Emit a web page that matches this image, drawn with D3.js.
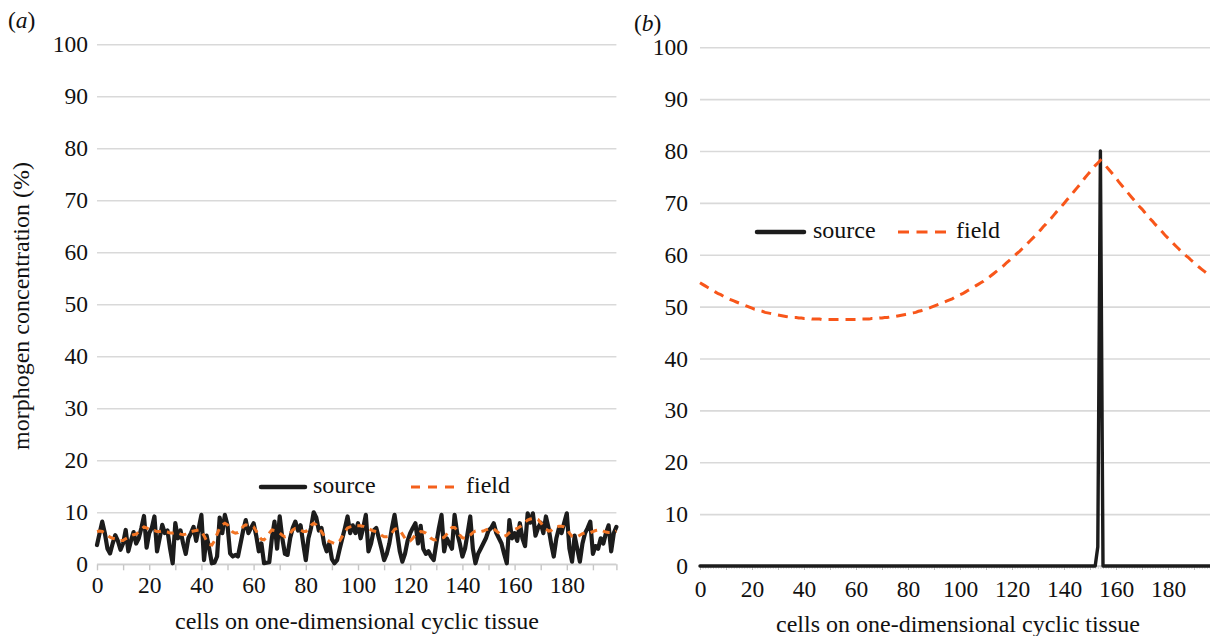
<!DOCTYPE html>
<html>
<head>
<meta charset="utf-8">
<script src="https://cdn.jsdelivr.net/npm/d3@7"></script>
<style>
  html, body { margin: 0; padding: 0; background: #fff; }
  svg { display: block; }
  text { font-family: "Liberation Serif", "Times New Roman", serif; fill: #111; }
</style>
</head>
<body>
<svg id="chart" width="1210" height="636"></svg>
<script>
// ---------- data ----------
const xTickLabels = [0, 20, 40, 60, 80, 100, 120, 140, 160, 180];
const yTickValues = [0, 10, 20, 30, 40, 50, 60, 70, 80, 90, 100];
const seriesNames = ["source", "field"];
const panelLabels = ["a", "b"];
const xTitle = "cells on one-dimensional cyclic tissue";
const yTitle = "morphogen concentration (%)";

const sourceA = [
  3.7, 6, 8.2, 6, 3, 2.1, 4, 5.6, 4.5, 2.8,
  4, 6.6, 2.5, 4.5, 6.2, 4, 5, 7, 9.3, 3.2,
  6, 7, 9.2, 2.5, 5, 7.6, 6, 6.5, 3, 0.2,
  7.9, 5, 6.5, 4, 2, 5, 6, 7.2, 4.5, 7,
  9.5, 0.8, 5.5, 3, 0.2, 0.3, 1.5, 9, 6, 9.5,
  7.5, 2.1, 1.5, 1.8, 1.5, 4, 6.5, 8.5, 6, 7,
  7.9, 5.5, 2.5, 4, 0.2, 0.3, 0.4, 5, 8.2, 3,
  9.2, 5, 2, 1.8, 5, 7, 8.2, 6.5, 7.5, 4,
  0.8, 5, 7, 10, 9, 6.5, 7, 4, 2.5, 4,
  1, 0.2, 0.8, 3, 5, 7, 9.2, 6, 7.5, 6,
  7.9, 5, 7, 9.5, 2.5, 4, 6.5, 7, 5, 3,
  0.8, 2, 4, 7, 9.5, 6, 2.5, 0.5, 2, 4.5,
  6, 7, 7.9, 4, 7.4, 3, 2, 2.5, 1.5, 0.8,
  4, 7, 9.5, 2.5, 5, 4, 3, 9.5, 6, 4,
  1.5, 3, 6, 9.2, 3, 0.2, 2, 3, 4, 5,
  6.5, 7, 7.9, 6, 5, 4, 2, 0.2, 8.5, 5,
  6, 4.5, 7.9, 5, 3.5, 9.8, 8, 9.8, 5.5, 7,
  8, 6, 9.2, 7, 4, 1.5, 5, 7, 6, 8,
  9.8, 3, 0.5, 5.5, 3, 0.5, 4, 6, 7, 8.2,
  2, 3.5, 3, 5, 4, 6, 7.5, 2.5, 6, 7.2
];

const fieldA = [
  6.3, 6.4, 6.3, 6.0, 5.6, 5.2, 5.0, 4.9, 4.8, 4.6,
  4.6, 4.9, 5.2, 5.5, 5.7, 5.8, 6.2, 6.8, 7.2, 7.0,
  6.7, 6.5, 6.5, 6.3, 6.3, 6.4, 6.3, 6.2, 6.0, 6.0,
  6.1, 6.0, 5.8, 5.7, 5.8, 6.0, 6.3, 6.4, 6.5, 6.6,
  6.4, 5.5, 4.5, 3.8, 3.7, 4.5, 5.8, 7.0, 7.6, 7.9,
  7.6, 6.8, 6.2, 6.0, 6.1, 6.6, 7.3, 7.6, 7.5, 7.4,
  7.2, 6.4, 5.4, 4.8, 4.7, 5.2, 6.0, 6.6, 6.5, 6.2,
  6.0, 5.6, 5.3, 5.5, 6.0, 6.6, 6.9, 6.8, 6.6, 6.3,
  6.3, 6.8, 7.5, 7.9, 7.6, 6.9, 6.3, 5.5, 4.8, 4.4,
  4.2, 4.0, 4.0, 4.5, 5.4, 6.3, 7.0, 7.2, 7.3, 7.4,
  7.4, 7.4, 7.3, 7.1, 6.9, 6.6, 6.4, 6.3, 6.0, 5.6,
  5.3, 5.3, 5.4, 6.0, 6.7, 6.9, 6.6, 5.8, 5.0, 4.6,
  4.5, 5.0, 5.7, 6.0, 6.3, 6.2, 6.0, 5.6, 5.0, 4.7,
  4.7, 4.9, 5.0, 5.2, 5.8, 6.6, 7.1, 7.1, 6.5, 5.6,
  5.1, 5.0, 5.2, 5.6, 6.1, 6.4, 6.4, 6.3, 6.4, 6.6,
  6.8, 6.9, 6.8, 6.4, 6.0, 5.6, 5.4, 5.6, 6.1, 6.5,
  6.7, 6.9, 7.2, 7.6, 8.1, 8.5, 8.7, 8.8, 8.8, 8.6,
  8.0, 7.3, 6.8, 6.4, 6.5, 6.9, 7.2, 7.3, 7.3, 7.2,
  6.8, 6.0, 5.4, 5.2, 5.3, 5.6, 5.9, 6.0, 6.0, 6.1,
  6.3, 6.5, 6.6, 6.6, 6.4, 6.2, 6.1, 6.1, 6.2, 6.4
];

const sourceB = [
  0, 0, 0, 0, 0, 0, 0, 0, 0, 0,
  0, 0, 0, 0, 0, 0, 0, 0, 0, 0,
  0, 0, 0, 0, 0, 0, 0, 0, 0, 0,
  0, 0, 0, 0, 0, 0, 0, 0, 0, 0,
  0, 0, 0, 0, 0, 0, 0, 0, 0, 0,
  0, 0, 0, 0, 0, 0, 0, 0, 0, 0,
  0, 0, 0, 0, 0, 0, 0, 0, 0, 0,
  0, 0, 0, 0, 0, 0, 0, 0, 0, 0,
  0, 0, 0, 0, 0, 0, 0, 0, 0, 0,
  0, 0, 0, 0, 0, 0, 0, 0, 0, 0,
  0, 0, 0, 0, 0, 0, 0, 0, 0, 0,
  0, 0, 0, 0, 0, 0, 0, 0, 0, 0,
  0, 0, 0, 0, 0, 0, 0, 0, 0, 0,
  0, 0, 0, 0, 0, 0, 0, 0, 0, 0,
  0, 0, 0, 0, 0, 0, 0, 0, 0, 0,
  0, 0, 0, 3.7, 80, 0, 0, 0, 0, 0,
  0, 0, 0, 0, 0, 0, 0, 0, 0, 0,
  0, 0, 0, 0, 0, 0, 0, 0, 0, 0,
  0, 0, 0, 0, 0, 0, 0, 0, 0, 0,
  0, 0, 0, 0, 0, 0, 0, 0, 0, 0
];

const fieldB = [
  54.6, 54.3, 54.0, 53.7, 53.4, 53.1, 52.8, 52.5, 52.3, 52.0,
  51.8, 51.5, 51.3, 51.1, 50.9, 50.7, 50.5, 50.3, 50.1, 49.9,
  49.7, 49.5, 49.4, 49.2, 49.1, 48.9, 48.8, 48.7, 48.6, 48.5,
  48.4, 48.3, 48.2, 48.1, 48.0, 48.0, 47.9, 47.9, 47.8, 47.8,
  47.7, 47.7, 47.7, 47.6, 47.6, 47.6, 47.6, 47.5, 47.5, 47.5,
  47.5, 47.5, 47.5, 47.5, 47.5, 47.5, 47.5, 47.5, 47.5, 47.5,
  47.5, 47.5, 47.6, 47.6, 47.6, 47.6, 47.7, 47.7, 47.7, 47.8,
  47.8, 47.9, 47.9, 48.0, 48.0, 48.1, 48.2, 48.3, 48.4, 48.5,
  48.6, 48.7, 48.8, 48.9, 49.1, 49.2, 49.4, 49.5, 49.7, 49.9,
  50.1, 50.3, 50.5, 50.7, 50.9, 51.1, 51.3, 51.5, 51.8, 52.0,
  52.3, 52.5, 52.8, 53.1, 53.4, 53.7, 54.0, 54.3, 54.6, 54.9,
  55.3, 55.6, 56.0, 56.4, 56.8, 57.2, 57.6, 58.0, 58.5, 58.9,
  59.4, 59.8, 60.3, 60.7, 61.2, 61.7, 62.2, 62.7, 63.2, 63.7,
  64.3, 64.8, 65.4, 65.9, 66.5, 67.0, 67.6, 68.2, 68.8, 69.3,
  69.9, 70.5, 71.1, 71.7, 72.3, 72.9, 73.5, 74.1, 74.8, 75.4,
  76.0, 76.6, 77.2, 77.7, 78.2, 77.7, 77.2, 76.6, 76.0, 75.4,
  74.8, 74.1, 73.5, 72.9, 72.3, 71.7, 71.1, 70.5, 69.9, 69.3,
  68.8, 68.2, 67.6, 67.0, 66.5, 65.9, 65.4, 64.8, 64.3, 63.7,
  63.2, 62.7, 62.2, 61.7, 61.2, 60.7, 60.3, 59.8, 59.4, 58.9,
  58.5, 58.0, 57.6, 57.2, 56.8, 56.4, 56.0, 55.6, 55.3, 54.9
];

// ---------- drawing ----------
const svg = d3.select("#chart");
svg.append("rect").attr("width", 1210).attr("height", 636).attr("fill", "#fff");

const FONT = 23.5;
const TITLE_FONT = 24;
const SERIF = '"Liberation Serif", "Times New Roman", serif';
const SOURCE_COLOR = "#1c1c1c";
const GRID_COLOR = "#d9d9d9";

const panels = [
  {
    label: panelLabels[0], source: sourceA, field: fieldA,
    x0: 97, x1: 616.4, y0: 564.3, y1: 44.3, yPad: 9, xPad: 12.2,
    gridRight: 616.4, minorTicks: false,
    labelPos: [8, 28], xTitlePos: [357, 629], yTitle: true,
    legend: { y: 487, lineX: [261, 305], srcTextX: 313, dashX: [411, 460], fieldTextX: 466, base: 493 },
    srcWidth: 4.2, fieldWidth: 3, fieldColor: "#f27424", fieldDash: "7,6", legendDash: "9,8",
    legendColor: "#f4601c"
  },
  {
    label: panelLabels[1], source: sourceB, field: fieldB,
    x0: 700, x1: 700 + 199 * 2.6, y0: 566, y1: 47.3, yPad: 12, xPad: 14.5,
    gridRight: 1230, minorTicks: true,
    labelPos: [634, 31], xTitlePos: [958, 632], yTitle: false,
    legend: { y: 232, lineX: [757, 804], srcTextX: 813, dashX: [898, 947], fieldTextX: 956, base: 238 },
    srcWidth: 3.4, fieldWidth: 3, fieldColor: "#f8561a", fieldDash: "10,7", legendDash: "11,7.5",
    legendColor: "#f8561a"
  }
];

panels.forEach(p => {
  const n = p.source.length;
  const cells = d3.range(n);
  const x = d3.scaleLinear().domain([0, n - 1]).range([p.x0, p.x1]);
  const y = d3.scaleLinear().domain([0, 100]).range([p.y0, p.y1]);
  const g = svg.append("g");

  // gridlines + y labels
  const yAxis = d3.axisLeft(y).tickValues(yTickValues)
    .tickSize(-(p.gridRight - p.x0)).tickPadding(p.yPad).tickFormat(d3.format("d"));
  const ya = g.append("g").attr("transform", `translate(${p.x0},0)`).call(yAxis)
    .attr("font-family", SERIF);
  ya.select(".domain").remove();
  ya.selectAll(".tick line").attr("stroke", GRID_COLOR).attr("stroke-width", 1.6);
  ya.selectAll(".tick text").attr("font-size", FONT).attr("fill", "#111").style("font-family", SERIF);

  // x axis
  const xa = g.append("g").attr("transform", `translate(0,${y(0)})`);
  const majorTicks = d3.range(0, n, 10);
  if (p.minorTicks) {
    xa.append("g").call(d3.axisBottom(x).tickValues(cells).tickSize(3).tickFormat(""))
      .call(s => { s.select(".domain").remove(); s.selectAll("line").attr("stroke", "#c8c8c8").attr("stroke-width", 0.8); });
    xa.append("g").call(d3.axisBottom(x).tickValues(majorTicks).tickSize(4).tickFormat(""))
      .call(s => { s.select(".domain").remove(); s.selectAll("line").attr("stroke", "#bdbdbd").attr("stroke-width", 1); });
  } else {
    xa.append("g").call(d3.axisBottom(x).tickValues(majorTicks.concat([n - 1])).tickSize(6).tickFormat(""))
      .call(s => { s.select(".domain").remove(); s.selectAll("line").attr("stroke", "#c6c6c6").attr("stroke-width", 1.4); });
  }
  xa.append("line").attr("x1", p.x0).attr("x2", p.gridRight).attr("y1", 0).attr("y2", 0)
    .attr("stroke", "#cfcfcf").attr("stroke-width", 1.6);
  const xl = xa.append("g").call(d3.axisBottom(x).tickValues(xTickLabels).tickSize(0).tickPadding(p.xPad))
    .attr("font-family", SERIF);
  xl.select(".domain").remove();
  xl.selectAll(".tick text").attr("font-size", FONT).attr("fill", "#111").style("font-family", SERIF);

  // series lines
  const line = d3.line().x((d, i) => x(i)).y(d => y(d));
  g.append("path").datum(p.source).attr("d", line)
    .attr("fill", "none").attr("stroke", SOURCE_COLOR).attr("stroke-width", p.srcWidth)
    .attr("stroke-linejoin", "round").attr("stroke-linecap", "round");
  g.append("path").datum(p.field).attr("d", line)
    .attr("fill", "none").attr("stroke", p.fieldColor).attr("stroke-width", p.fieldWidth)
    .attr("stroke-dasharray", p.fieldDash);

  // legend
  const L = p.legend;
  g.append("line").attr("x1", L.lineX[0]).attr("x2", L.lineX[1]).attr("y1", L.y).attr("y2", L.y)
    .attr("stroke", SOURCE_COLOR).attr("stroke-width", 4.5).attr("stroke-linecap", "round");
  g.append("text").attr("x", L.srcTextX).attr("y", L.base).attr("font-size", TITLE_FONT).text(seriesNames[0]);
  g.append("line").attr("x1", L.dashX[0]).attr("x2", L.dashX[1]).attr("y1", L.y).attr("y2", L.y)
    .attr("stroke", p.legendColor).attr("stroke-width", 3).attr("stroke-dasharray", p.legendDash);
  g.append("text").attr("x", L.fieldTextX).attr("y", L.base).attr("font-size", TITLE_FONT).text(seriesNames[1]);

  // panel label
  const pl = g.append("text").attr("x", p.labelPos[0]).attr("y", p.labelPos[1]).attr("font-size", FONT);
  pl.append("tspan").text("(");
  pl.append("tspan").attr("font-style", "italic").text(p.label);
  pl.append("tspan").text(")");

  // axis titles
  g.append("text").attr("x", p.xTitlePos[0]).attr("y", p.xTitlePos[1])
    .attr("text-anchor", "middle").attr("font-size", TITLE_FONT).text(xTitle);
  if (p.yTitle) {
    g.append("text").attr("transform", "translate(29,306) rotate(-90)")
      .attr("text-anchor", "middle").attr("font-size", TITLE_FONT).text(yTitle);
  }
});
</script>
</body>
</html>
